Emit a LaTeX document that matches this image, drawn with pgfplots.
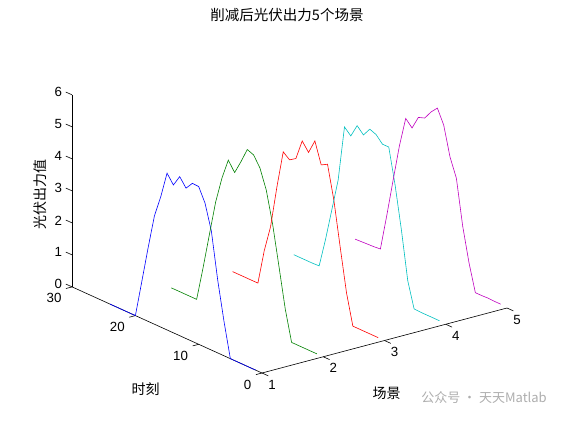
\documentclass[border=0pt]{standalone}
\usepackage{pgfplots}
\pgfplotsset{compat=1.18}
\usepackage{pgfplotstable}
\usepackage{fontspec}
\setmainfont{Liberation Sans}
\newfontfamily\cjk{Noto Sans CJK SC}
\definecolor{mgreen}{rgb}{0,0.5,0}
\definecolor{mcyan}{rgb}{0,0.75,0.75}
\definecolor{mmag}{rgb}{0.75,0,0.75}

\pgfplotstableread{
t  s1   s2   s3   s4   s5
1  0    0    0    0.02 0.03
2  0    0    0    0.02 0.03
3  0    0    0    0.02 0.04
4  0    0    0    0.02 0.03
5  0    0    0    0.03 0.03
6  1.07 0.95 0.95 0.82 0.87
7  2.28 2.20 2.29 2.31 1.93
8  3.72 3.43 3.67 3.63 3.34
9  4.50 4.40 4.70 4.73 3.91
10 4.93 5.00 4.59 4.73 4.82
11 4.94 5.32 5.25 4.94 5.26
12 4.70 5.40 4.80 5.02 5.05
13 4.97 4.93 5.07 4.75 4.77
14 4.62 4.50 4.43 4.95 4.70
15 4.90 4.80 4.30 4.54 4.28
16 4.07 4.15 4.46 4.73 4.49
17 3.38 3.31 3.27 2.98 3.54
18 2.29 2.19 1.94 1.96 2.37
19 1.14 1.06 1.10 0.94 1.18
20 0    0    0    0.03 0.05
21 0    0    0    0.02 0.03
22 0    0    0    0.02 0.02
23 0    0    0    0.02 0.01
24 0    0    0    0.02 0
}\pvdata

\begin{document}
\begin{tikzpicture}[font=\fontsize{13.3}{16}\selectfont]
\begin{axis}[
  x={(61.25pt,16.25pt)}, y={(-6.33pt,2.87pt)}, z={(0pt,32pt)},
  xmin=1, xmax=5, ymin=0, ymax=30, zmin=0, zmax=6,
  hide axis, clip=false,
]
% axis lines
\draw[black, line width=0.6pt] (axis cs:1,0,0) -- (axis cs:5,0,0);
\draw[black, line width=0.6pt] (axis cs:1,0,0) -- (axis cs:1,30,0);
\draw[black, line width=0.6pt] (axis cs:1,30,0) -- (axis cs:1,30,6);
\coordinate (O) at (axis cs:1,0,0);
% x ticks
\pgfplotsinvokeforeach{1,2,3,4,5}{
  \draw[black, line width=0.6pt] (axis cs:#1,0,0) -- (axis cs:#1,-1,0);
  \node[inner sep=0pt] at (axis cs:#1,0,0) [xshift=10pt, yshift=-11.5pt] {#1};
}
% y ticks
\pgfplotsinvokeforeach{0,10,20,30}{
  \draw[black, line width=0.6pt] (axis cs:1,#1,0) -- (axis cs:0.9,#1,0);
  \node[inner sep=0pt, anchor=east] at (axis cs:1,#1,0) [xshift=-10.5pt, yshift=-11.5pt] {#1};
}
% z ticks
\pgfplotsinvokeforeach{0,1,2,3,4,5,6}{
  \draw[black, line width=0.6pt] (axis cs:1,30,#1) -- (axis cs:1,31,#1);
  \node[inner sep=0pt, anchor=east] at (axis cs:1,30,#1) [xshift=-10pt, yshift=2.5pt] {#1};
}
% data
\addplot3[blue, line width=0.6pt, no marks] table[x expr=1, y=t, z=s1] {\pvdata};
\addplot3[mgreen, line width=0.6pt, no marks] table[x expr=2, y=t, z=s2] {\pvdata};
\addplot3[red, line width=0.6pt, no marks] table[x expr=3, y=t, z=s3] {\pvdata};
\addplot3[mcyan, line width=0.6pt, no marks] table[x expr=4, y=t, z=s4] {\pvdata};
\addplot3[mmag, line width=0.6pt, no marks] table[x expr=5, y=t, z=s5] {\pvdata};
\end{axis}
% labels and title
\node[font=\cjk\fontsize{14.5}{16}\selectfont] at ([shift={(25pt,358pt)}]O) {削减后光伏出力5个场景};
\node[font=\cjk\fontsize{14}{16}\selectfont] at ([shift={(-116.3pt,-16.3pt)}]O) {时刻};
\node[font=\cjk\fontsize{14}{16}\selectfont] at ([shift={(124.7pt,-20.3pt)}]O) {场景};
\node[font=\cjk\fontsize{14}{16}\selectfont, rotate=90] at ([shift={(-221.3pt,178pt)}]O) {光伏出力值};
\node[font=\cjk\fontsize{13}{15}\selectfont, text=black!40, opacity=0.8] at ([shift={(222pt,-25pt)}]O) {公众号 · 天天Matlab};
% page frame
\path (O) ++(-262pt,-47pt) rectangle ++(561pt,420pt);
\end{tikzpicture}
\end{document}
